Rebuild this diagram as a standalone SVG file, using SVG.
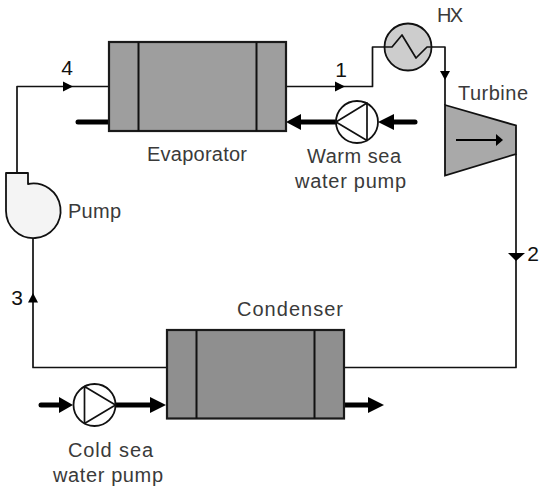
<svg xmlns="http://www.w3.org/2000/svg" width="546" height="487" viewBox="0 0 546 487">
<style>
text{font-family:"Liberation Sans",Arial,sans-serif;font-size:20px;fill:#3a3a3a}
.n{font-size:21px;fill:#111;text-anchor:middle}
.line{fill:none;stroke:#111;stroke-width:1.7;stroke-linejoin:round}
.thick{fill:none;stroke:#000;stroke-width:5;stroke-linecap:round}
.box{stroke:#1a1a1a;stroke-width:2.2}
.div{stroke:#111;stroke-width:2;fill:none}
.pump{fill:#fff;stroke:#111;stroke-width:1.8}
</style>
<rect width="546" height="487" fill="#fff"/>
<g id="connectors">
<path class="line" d="M17 173V86.500H109"/>
<path class="line" d="M286 86.500H372.500V47H384"/>
<path class="line" d="M432 47H445V105"/>
<path class="line" d="M516 154V367.500H344"/>
<path class="line" d="M166 367.500H33V238"/>
<path d="M63 81.500L73 86.500L63 91.500Z"/>
<path d="M335 81.500L345 86.500L335 91.500Z"/>
<path d="M440 71H450L445 80Z"/>
<path d="M508 253H525L516 261Z"/>
<path d="M28 302.500H38L33 293Z"/>
<path class="thick" d="M78 122H109"/>
<path class="thick" d="M298 122H336"/>
<path d="M286 122L301 114V130Z"/>
<path class="thick" d="M392 122H415"/>
<path d="M378 122L394 114V130Z"/>
<path class="thick" d="M41 405H62"/>
<path d="M73 405L59 397V413Z"/>
<path class="thick" d="M116 405H154"/>
<path d="M166 405L150 397V413Z"/>
<path class="thick" d="M344 405H370"/>
<path d="M384 405L368 397V413Z"/>
</g>
<g id="evaporator">
<rect class="box" x="109" y="42" width="177" height="89" fill="#9e9e9e"/>
<path class="div" d="M138.500 42V131M256.500 42V131"/>
<text x="147" y="161" textLength="100">Evaporator</text>
</g>
<g id="hx">
<circle cx="408" cy="47" r="23.500" fill="#cdcdcd" stroke="#111" stroke-width="1.800"/>
<path class="line" d="M384 47H392L402 35L416 58L427 47H432"/>
<text x="437" y="22" textLength="26">HX</text>
</g>
<g id="warm-pump">
<circle class="pump" cx="357" cy="122" r="21"/>
<path class="line" d="M336 122L367 103V140.500Z"/>
<text x="307" y="163" textLength="94">Warm sea</text>
<text x="295" y="188" textLength="111">water pump</text>
</g>
<g id="turbine">
<path d="M445 105L516 125.500V154L445 175.500Z" fill="#a9a9a9" stroke="#111" stroke-width="1.800"/>
<path d="M456 140H500" stroke="#000" stroke-width="2" fill="none"/>
<path d="M503 140L496 134V146Z"/>
<text x="458" y="100" textLength="70">Turbine</text>
</g>
<g id="pump">
<path d="M6 173H28V184A27.300 27.300 0 1 1 6 211Z" fill="#f4f4f4" stroke="#111" stroke-width="1.800" stroke-linejoin="round"/>
<text x="68" y="218" textLength="53">Pump</text>
</g>
<g id="condenser">
<rect class="box" x="167" y="330" width="177" height="88.500" fill="#8f8f8f"/>
<path class="div" d="M196.500 330V418.500M314.500 330V418.500"/>
<text x="237" y="316" textLength="106">Condenser</text>
</g>
<g id="cold-pump">
<circle class="pump" cx="94.500" cy="405" r="21"/>
<path class="line" d="M115.500 405L84.500 386.500V423.500Z"/>
<text x="68" y="457" textLength="85">Cold sea</text>
<text x="53" y="482" textLength="110">water pump</text>
</g>
<g id="labels">
<text class="n" x="67" y="75">4</text>
<text class="n" x="341" y="77">1</text>
<text class="n" x="533" y="261">2</text>
<text class="n" x="17" y="305">3</text>
</g>
</svg>
